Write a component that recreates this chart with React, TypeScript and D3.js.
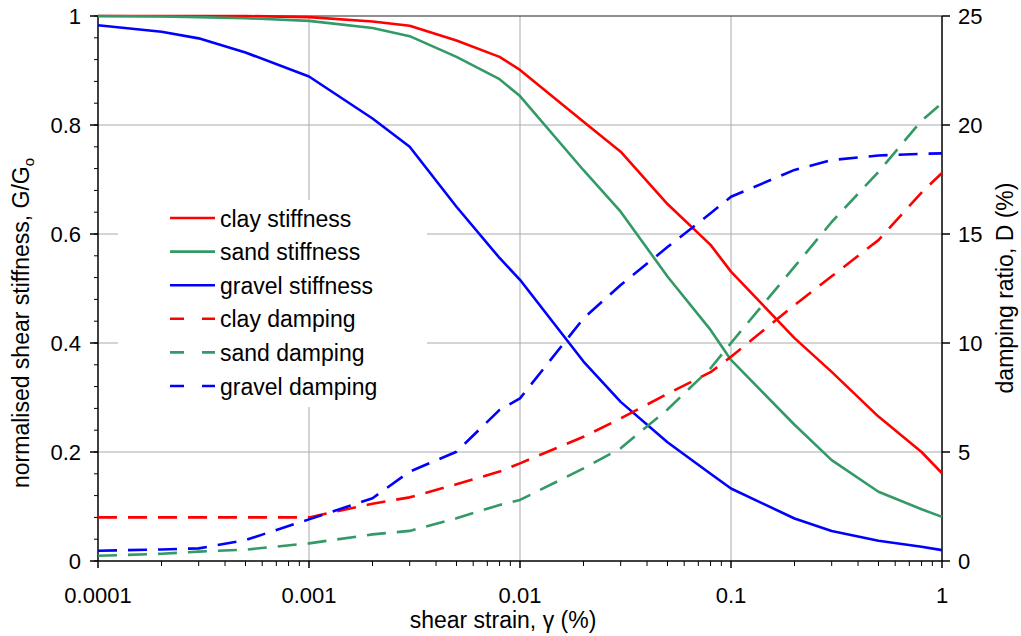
import * as d3 from 'd3';

// shear strain (%) sampled by all series
const strain = [0.0001, 0.0002, 0.0003, 0.0005, 0.001, 0.002, 0.003, 0.005, 0.008, 0.01, 0.02, 0.03, 0.05, 0.08, 0.1, 0.2, 0.3, 0.5, 0.8, 1];

// G/Go
const clayStiffness = [1, 1, 1, 1, 0.998, 0.99, 0.982, 0.955, 0.925, 0.901, 0.806, 0.751, 0.655, 0.58, 0.531, 0.409, 0.347, 0.265, 0.2, 0.161];
const sandStiffness = [1, 0.999, 0.998, 0.996, 0.991, 0.978, 0.963, 0.925, 0.884, 0.853, 0.717, 0.641, 0.522, 0.424, 0.369, 0.25, 0.185, 0.127, 0.095, 0.081];
const gravelStiffness = [0.983, 0.971, 0.959, 0.933, 0.889, 0.812, 0.76, 0.65, 0.556, 0.516, 0.366, 0.292, 0.218, 0.16, 0.133, 0.078, 0.055, 0.037, 0.026, 0.02];

// D (%)
const clayDamping = [2, 2, 2, 2, 2, 2.63, 2.92, 3.52, 4.1, 4.48, 5.7, 6.54, 7.67, 8.66, 9.37, 11.74, 13.06, 14.72, 16.9, 17.8];
const sandDamping = [0.24, 0.33, 0.43, 0.52, 0.81, 1.22, 1.38, 1.96, 2.57, 2.8, 4.25, 5.17, 6.95, 8.84, 10.0, 13.5, 15.55, 17.85, 20.2, 21.0];
const gravelDamping = [0.47, 0.53, 0.58, 0.96, 1.91, 2.88, 4.1, 5.01, 6.93, 7.46, 11.13, 12.66, 14.4, 15.95, 16.71, 17.94, 18.39, 18.6, 18.68, 18.7];

const xTicks = [0.0001, 0.001, 0.01, 0.1, 1];
const xTickLabels = ['0.0001', '0.001', '0.01', '0.1', '1'];
const leftTicks = [0, 0.2, 0.4, 0.6, 0.8, 1];
const rightTicks = [0, 5, 10, 15, 20, 25];

const RED = '#ff0000';
const GREEN = '#339966';
const BLUE = '#0000ff';

const series = [
  { name: 'clay stiffness', values: clayStiffness, color: RED, axis: 'left', dashed: false },
  { name: 'sand stiffness', values: sandStiffness, color: GREEN, axis: 'left', dashed: false },
  { name: 'gravel stiffness', values: gravelStiffness, color: BLUE, axis: 'left', dashed: false },
  { name: 'clay damping', values: clayDamping, color: RED, axis: 'right', dashed: true },
  { name: 'sand damping', values: sandDamping, color: GREEN, axis: 'right', dashed: true },
  { name: 'gravel damping', values: gravelDamping, color: BLUE, axis: 'right', dashed: true },
];

const W = 1021;
const H = 636;
const left = 98, right = 942, top = 16, bottom = 561;
const FONT = '"Liberation Sans", Arial, Helvetica, sans-serif';
const FS = 22;
const FS_TITLE = 23;

export default function App() {
  const x = d3.scaleLog().domain([0.0001, 1]).range([left, right]);
  const yL = d3.scaleLinear().domain([0, 1]).range([bottom, top]);
  const yR = d3.scaleLinear().domain([0, 25]).range([bottom, top]);

  const minorX: number[] = [];
  for (let e = -4; e < 0; e++) {
    for (let m = 2; m <= 9; m++) minorX.push(m * Math.pow(10, e));
  }
  const minorY = d3.range(0, 1.0001, 0.04);

  const line = (vals: number[], yScale: d3.ScaleLinear<number, number>) =>
    d3.line<number>()
      .x((_, i) => x(strain[i]))
      .y(d => yScale(d))(vals) || '';

  const legX = 170, legY = 218, legStep = 33.6;

  return (
    <svg width={W} height={H} style={{ position: 'absolute', left: 0, top: 0, background: '#fff' }}
      fontFamily={FONT} fontSize={FS}>
      {/* grid */}
      <g stroke="#aaaaaa" strokeWidth={1}>
        {[0.001, 0.01, 0.1].map(t => (
          <line key={'gx' + t} x1={x(t)} x2={x(t)} y1={top} y2={bottom} />
        ))}
        {[0.2, 0.4, 0.6, 0.8].map(t => (
          <line key={'gy' + t} x1={left} x2={right} y1={yL(t)} y2={yL(t)} />
        ))}
      </g>

      {/* legend box */}
      <rect x={118} y={200} width={309} height={207} fill="#fff" />

      {/* axes */}
      <g stroke="#000" strokeWidth={1.5} fill="none">
        <line x1={left} x2={right} y1={top} y2={top} strokeWidth={1.2} stroke="#222" />
        <line x1={left} x2={left} y1={top} y2={bottom} />
        <line x1={right} x2={right} y1={top} y2={bottom} />
        <line x1={left} x2={right} y1={bottom} y2={bottom} />
        {xTicks.map(t => (
          <line key={'xt' + t} x1={x(t)} x2={x(t)} y1={bottom} y2={bottom + 7} />
        ))}
        {minorX.map(t => (
          <line key={'xm' + t} x1={x(t)} x2={x(t)} y1={bottom} y2={bottom + 5} strokeWidth={1} />
        ))}
        {leftTicks.map(t => (
          <line key={'lt' + t} x1={left - 8} x2={left} y1={yL(t)} y2={yL(t)} />
        ))}
        {minorY.map(t => (
          <line key={'lm' + t} x1={left - 4} x2={left} y1={yL(t)} y2={yL(t)} strokeWidth={1} />
        ))}
        {rightTicks.map(t => (
          <line key={'rt' + t} x1={right} x2={right + 8} y1={yR(t)} y2={yR(t)} />
        ))}
      </g>

      {/* tick labels */}
      <g fill="#000">
        {xTicks.map((t, i) => (
          <text key={'xl' + t} x={x(t)} y={603} textAnchor="middle">{xTickLabels[i]}</text>
        ))}
        {leftTicks.map(t => (
          <text key={'ll' + t} x={81} y={yL(t) + 8} textAnchor="end">{t === 0 || t === 1 ? String(t) : t.toFixed(1)}</text>
        ))}
        {rightTicks.map(t => (
          <text key={'rl' + t} x={958} y={yR(t) + 8} textAnchor="start">{t}</text>
        ))}
      </g>

      {/* axis titles */}
      <g fontSize={FS_TITLE}>
        <text x={503} y={628} textAnchor="middle">shear strain, γ (%)</text>
        <text transform={`translate(29,323) rotate(-90)`} textAnchor="middle">
          normalised shear stiffness, G/G<tspan fontSize={FS_TITLE * 0.65} dy={5}>o</tspan>
        </text>
        <text transform={`translate(1013,288) rotate(-90)`} textAnchor="middle">damping ratio, D (%)</text>
      </g>

      {/* series */}
      <g fill="none" strokeWidth={2.6} strokeLinejoin="round">
        {series.map(s => (
          <path key={s.name} d={line(s.values, s.axis === 'left' ? yL : yR)}
            stroke={s.color} strokeDasharray={s.dashed ? '19 11' : undefined} />
        ))}
      </g>

      {/* legend entries */}
      {series.map((s, i) => (
        <g key={'leg' + s.name} fontSize={FS_TITLE}>
          <line x1={legX} x2={legX + 45} y1={legY + i * legStep} y2={legY + i * legStep}
            stroke={s.color} strokeWidth={2.6} strokeDasharray={s.dashed ? '14 18' : undefined} />
          <text x={220} y={legY + i * legStep + 8.5}>{s.name}</text>
        </g>
      ))}
    </svg>
  );
}
